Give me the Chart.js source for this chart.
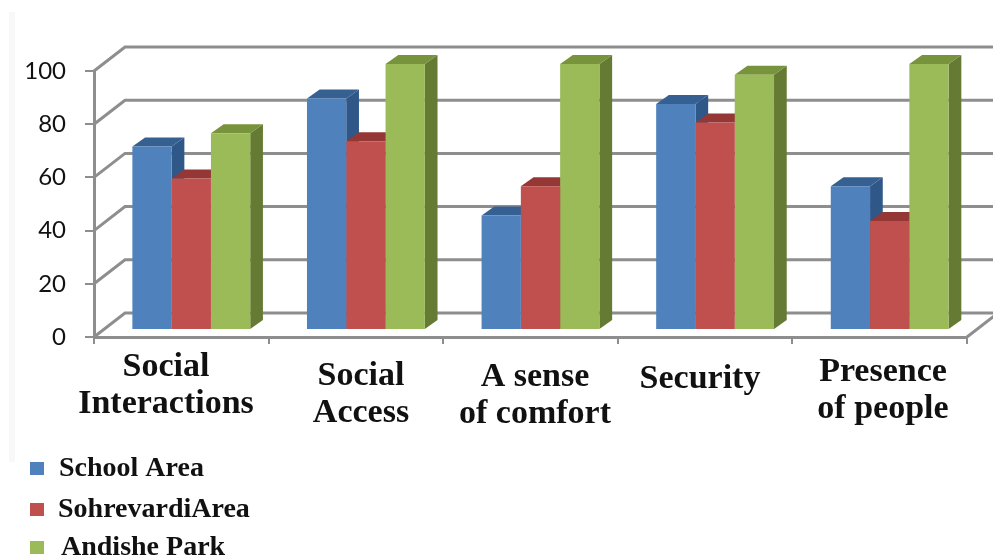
<!DOCTYPE html>
<html>
<head>
<meta charset="utf-8">
<title>Area comparison</title>
<script src="https://cdn.jsdelivr.net/npm/chart.js@4/dist/chart.umd.min.js"></script>
<style>
  html, body { margin: 0; padding: 0; background: #fff; overflow: hidden; }
  canvas { display: block; }
</style>
</head>
<body>
<canvas id="areaChart" width="993" height="558"></canvas>
<script>
const categories = ['Social Interactions', 'Social Access', 'A sense of comfort', 'Security', 'Presence of people'];
const schoolArea = [69, 87, 43, 85, 54];
const sohrevardiArea = [57, 71, 54, 78, 41];
const andishePark = [74, 100, 100, 96, 100];
const yTicks = [0, 20, 40, 60, 80, 100];

// Two-line captions under each group, placed by hand
const captionLines = [['Social', 'Interactions'], ['Social', 'Access'], ['A sense', 'of comfort'], ['Security'], ['Presence', 'of people']];
const captionX = [166, 361, 535, 700, 883];
const captionY = [367, 376, 377, 379, 372];

const legendX = [59, 58, 61];
const legendY = [469, 510, 548];

const GRID = '#8e8e8e';
const WALL_DX = 31, WALL_DY = -24;   // back wall offset from the front plane
const BAR_DX = 10, BAR_DY = -7;      // bars stand a little behind the front plane
const DEPTH_X = 12.7, DEPTH_Y = -9;  // depth of each bar

const series = [
    { label: 'School Area', data: schoolArea, front: '#4f81bd', top: '#376092', side: '#2f5788' },
    { label: 'SohrevardiArea', data: sohrevardiArea, front: '#c0504d', top: '#953735', side: '#7f2f2d' },
    { label: 'Andishe Park', data: andishePark, front: '#9bbb59', top: '#77933c', side: '#657a33' }
];

function quad(ctx, pts, color) {
    ctx.fillStyle = color;
    ctx.beginPath();
    pts.forEach((p, i) => i ? ctx.lineTo(p[0], p[1]) : ctx.moveTo(p[0], p[1]));
    ctx.closePath();
    ctx.fill();
}

const box3d = {
    id: 'box3d',
    beforeDraw(chart) {
        // Faint strip along the left edge of the page
        chart.ctx.fillStyle = '#f8f8f8';
        chart.ctx.fillRect(9, 12, 6, 450);
    },
    beforeDatasetsDraw(chart) {
        const { ctx, scales: { x, y } } = chart;
        const left = x.left, right = x.right;

        // Back wall, side wall and floor
        ctx.save();
        ctx.strokeStyle = GRID;
        ctx.lineWidth = 3;
        yTicks.forEach(v => {
            const py = y.getPixelForValue(v);
            ctx.beginPath();
            ctx.moveTo(left, py);
            ctx.lineTo(left + WALL_DX, py + WALL_DY);
            ctx.lineTo(chart.width + 5, py + WALL_DY);
            ctx.stroke();
        });
        ctx.beginPath();
        ctx.moveTo(right, y.bottom);
        ctx.lineTo(right + WALL_DX, y.bottom + WALL_DY);
        ctx.stroke();
        ctx.restore();

        // Side and top faces go first, the library paints the fronts over them
        ctx.save();
        ctx.translate(BAR_DX, BAR_DY);
        categories.forEach((c, i) => {
            series.forEach((s, d) => {
                const bar = chart.getDatasetMeta(d).data[i];
                const l = bar.x - bar.width / 2, r = bar.x + bar.width / 2;
                const t = bar.y, b = bar.base;
                quad(ctx, [[r, b], [r + DEPTH_X, b + DEPTH_Y], [r + DEPTH_X, t + DEPTH_Y], [r, t]], s.side);
                quad(ctx, [[l, t], [l + DEPTH_X, t + DEPTH_Y], [r + DEPTH_X, t + DEPTH_Y], [r, t]], s.top);
            });
        });
        ctx.restore();

        ctx.save();
        ctx.translate(BAR_DX, BAR_DY);
    },
    afterDatasetsDraw(chart) {
        chart.ctx.restore();
    },
    afterDraw(chart) {
        const { ctx } = chart;
        ctx.save();
        ctx.fillStyle = '#111';
        ctx.textBaseline = 'middle';

        // Group captions
        ctx.font = 'bold 34px "Liberation Serif"';
        ctx.textAlign = 'center';
        captionLines.forEach((lines, i) => {
            lines.forEach((line, n) => ctx.fillText(line, captionX[i], captionY[i] + n * 37));
        });

        // Legend down the lower left
        ctx.font = 'bold 28px "Liberation Serif"';
        ctx.textAlign = 'left';
        series.forEach((s, i) => {
            ctx.fillStyle = s.front;
            ctx.fillRect(30, legendY[i] - 7, 14, 13);
            ctx.fillStyle = '#111';
            ctx.fillText(s.label, legendX[i], legendY[i]);
        });
        ctx.restore();
    }
};

new Chart(document.getElementById('areaChart'), {
    type: 'bar',
    data: {
        labels: categories,
        datasets: series.map(s => ({
            label: s.label,
            data: s.data,
            backgroundColor: s.front,
            borderWidth: 0,
            clip: false,
            barPercentage: 1,
            categoryPercentage: 0.675
        }))
    },
    options: {
        responsive: false,
        animation: false,
        devicePixelRatio: 1,
        layout: { padding: { top: 71, right: 26, bottom: 0, left: 0 } },
        plugins: { legend: { display: false }, tooltip: { enabled: false } },
        scales: {
            x: {
                afterFit(scale) { scale.height = 221; },
                ticks: { display: false },
                grid: { drawOnChartArea: false, tickLength: 7, color: GRID, lineWidth: 2 },
                border: { color: GRID, width: 3 }
            },
            y: {
                min: 0,
                max: 100,
                afterFit(scale) { scale.width = 94; },
                afterBuildTicks(scale) { scale.ticks = yTicks.map(v => ({ value: v })); },
                ticks: { color: '#111', font: { family: 'Lato', size: 24 }, padding: 19 },
                grid: { drawOnChartArea: false, tickLength: 9, color: GRID, lineWidth: 2 },
                border: { color: GRID, width: 3 }
            }
        }
    },
    plugins: [box3d]
});
</script>
</body>
</html>
